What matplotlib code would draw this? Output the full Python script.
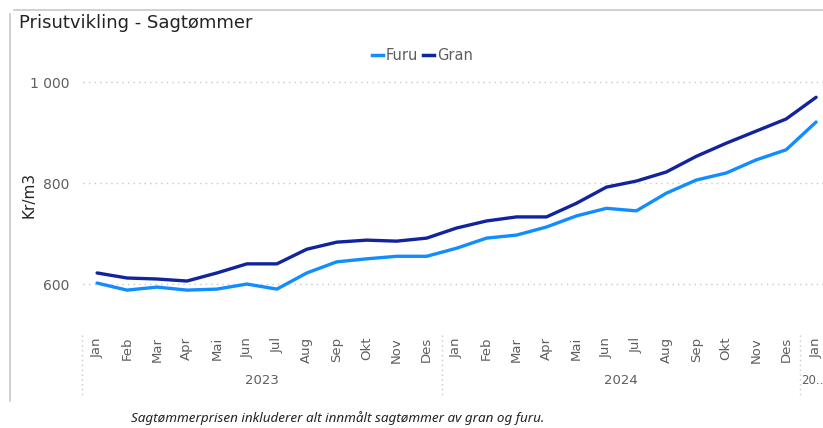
import matplotlib.pyplot as plt
from matplotlib.lines import Line2D
import numpy as np

months = ["Jan", "Feb", "Mar", "Apr", "Mai", "Jun", "Jul", "Aug", "Sep", "Okt", "Nov", "Des",
          "Jan", "Feb", "Mar", "Apr", "Mai", "Jun", "Jul", "Aug", "Sep", "Okt", "Nov", "Des",
          "Jan"]
years = ["2023", "2024", "20.."]
year_spans = [(0, 11), (12, 23), (24, 24)]
furu = [602, 588, 594, 588, 590, 600, 590, 622, 644, 650, 655, 655,
        671, 691, 697, 713, 735, 750, 745, 780, 806, 820, 846, 866, 921]
gran = [622, 612, 610, 606, 622, 640, 640, 669, 683, 687, 685, 691,
        711, 725, 733, 733, 760, 792, 804, 822, 853, 879, 903, 927, 970]
yticks = [600, 800, 1000]
ytick_labels = ["600", "800", "1 000"]

W, H = 823, 428
fig = plt.figure(figsize=(W / 100, H / 100), dpi=100)
fig.patch.set_facecolor("white")

def fx(px):
    return px / W

def fy(py):
    return 1 - py / H

ax_left, ax_right, ax_top, ax_bot = 83, 823, 70, 330
ax = fig.add_axes([fx(ax_left), fy(ax_bot), fx(ax_right - ax_left), (ax_bot - ax_top) / H])
x = np.arange(len(months))
c_furu = "#118DFF"
c_gran = "#12239E"
ax.plot(x, furu, color=c_furu, lw=2.4, solid_capstyle="round", solid_joinstyle="round")
ax.plot(x, gran, color=c_gran, lw=2.4, solid_capstyle="round", solid_joinstyle="round")
ax.set_xlim(-0.47, 24.23)
ax.set_ylim(509, 1024)
for s in ax.spines.values():
    s.set_visible(False)
ax.set_yticks(yticks)
ax.set_yticklabels(ytick_labels)
ax.tick_params(axis="y", length=0, pad=10, labelsize=10, labelcolor="#605E5C")
ax.yaxis.grid(True, linestyle=(0, (1, 3)), color="#C8C8C8", lw=1)
ax.set_xticks([])
ax.set_ylabel("Kr/m3", fontsize=11, color="#252423")
ax.yaxis.set_label_coords((37 - ax_left) / (ax_right - ax_left), 0.52)

# month labels
for i, m in enumerate(months):
    px = 97 + i * 29.96
    fig.text(fx(px), fy(337), m, rotation=90, ha="center", va="top",
             fontsize=9.5, color="#605E5C")
# year labels and separators
for (a, b), yl in zip(year_spans, years):
    if a == b:
        fig.text(fx(801), fy(381), yl, ha="left", va="center", fontsize=8.5, color="#605E5C")
    else:
        px = 97 + (a + b) / 2 * 29.96
        fig.text(fx(px), fy(381), yl, ha="center", va="center", fontsize=9.5, color="#605E5C")
for sx in [82, 442, 800]:
    fig.add_artist(Line2D([fx(sx), fx(sx)], [fy(335), fy(396)], color="#C8C8C8",
                          lw=1, linestyle=(0, (1, 2.5))))

# legend
fig.add_artist(Line2D([fx(372), fx(383)], [fy(55), fy(55)], color=c_furu, lw=2.5))
fig.text(fx(386), fy(55), "Furu", ha="left", va="center", fontsize=10.5, color="#605E5C")
fig.add_artist(Line2D([fx(423), fx(434)], [fy(55), fy(55)], color=c_gran, lw=2.5))
fig.text(fx(437), fy(55), "Gran", ha="left", va="center", fontsize=10.5, color="#605E5C")

# title
fig.text(fx(19), fy(23), "Prisutvikling - Sagtømmer", ha="left", va="center",
         fontsize=13, color="#252423")

# frame
fig.add_artist(Line2D([fx(10), fx(10)], [fy(14), fy(401)], color="#C8C8C8", lw=1.2))
fig.add_artist(Line2D([fx(14), fx(823)], [fy(10), fy(10)], color="#C8C8C8", lw=1.2))

# caption
fig.text(fx(131), fy(418), "Sagtømmerprisen inkluderer alt innmålt sagtømmer av gran og furu.",
         ha="left", va="center", fontsize=9.7, style="italic", color="#252423",
         family="Noto Sans")

fig.savefig("out.png", dpi=100, facecolor="white")
